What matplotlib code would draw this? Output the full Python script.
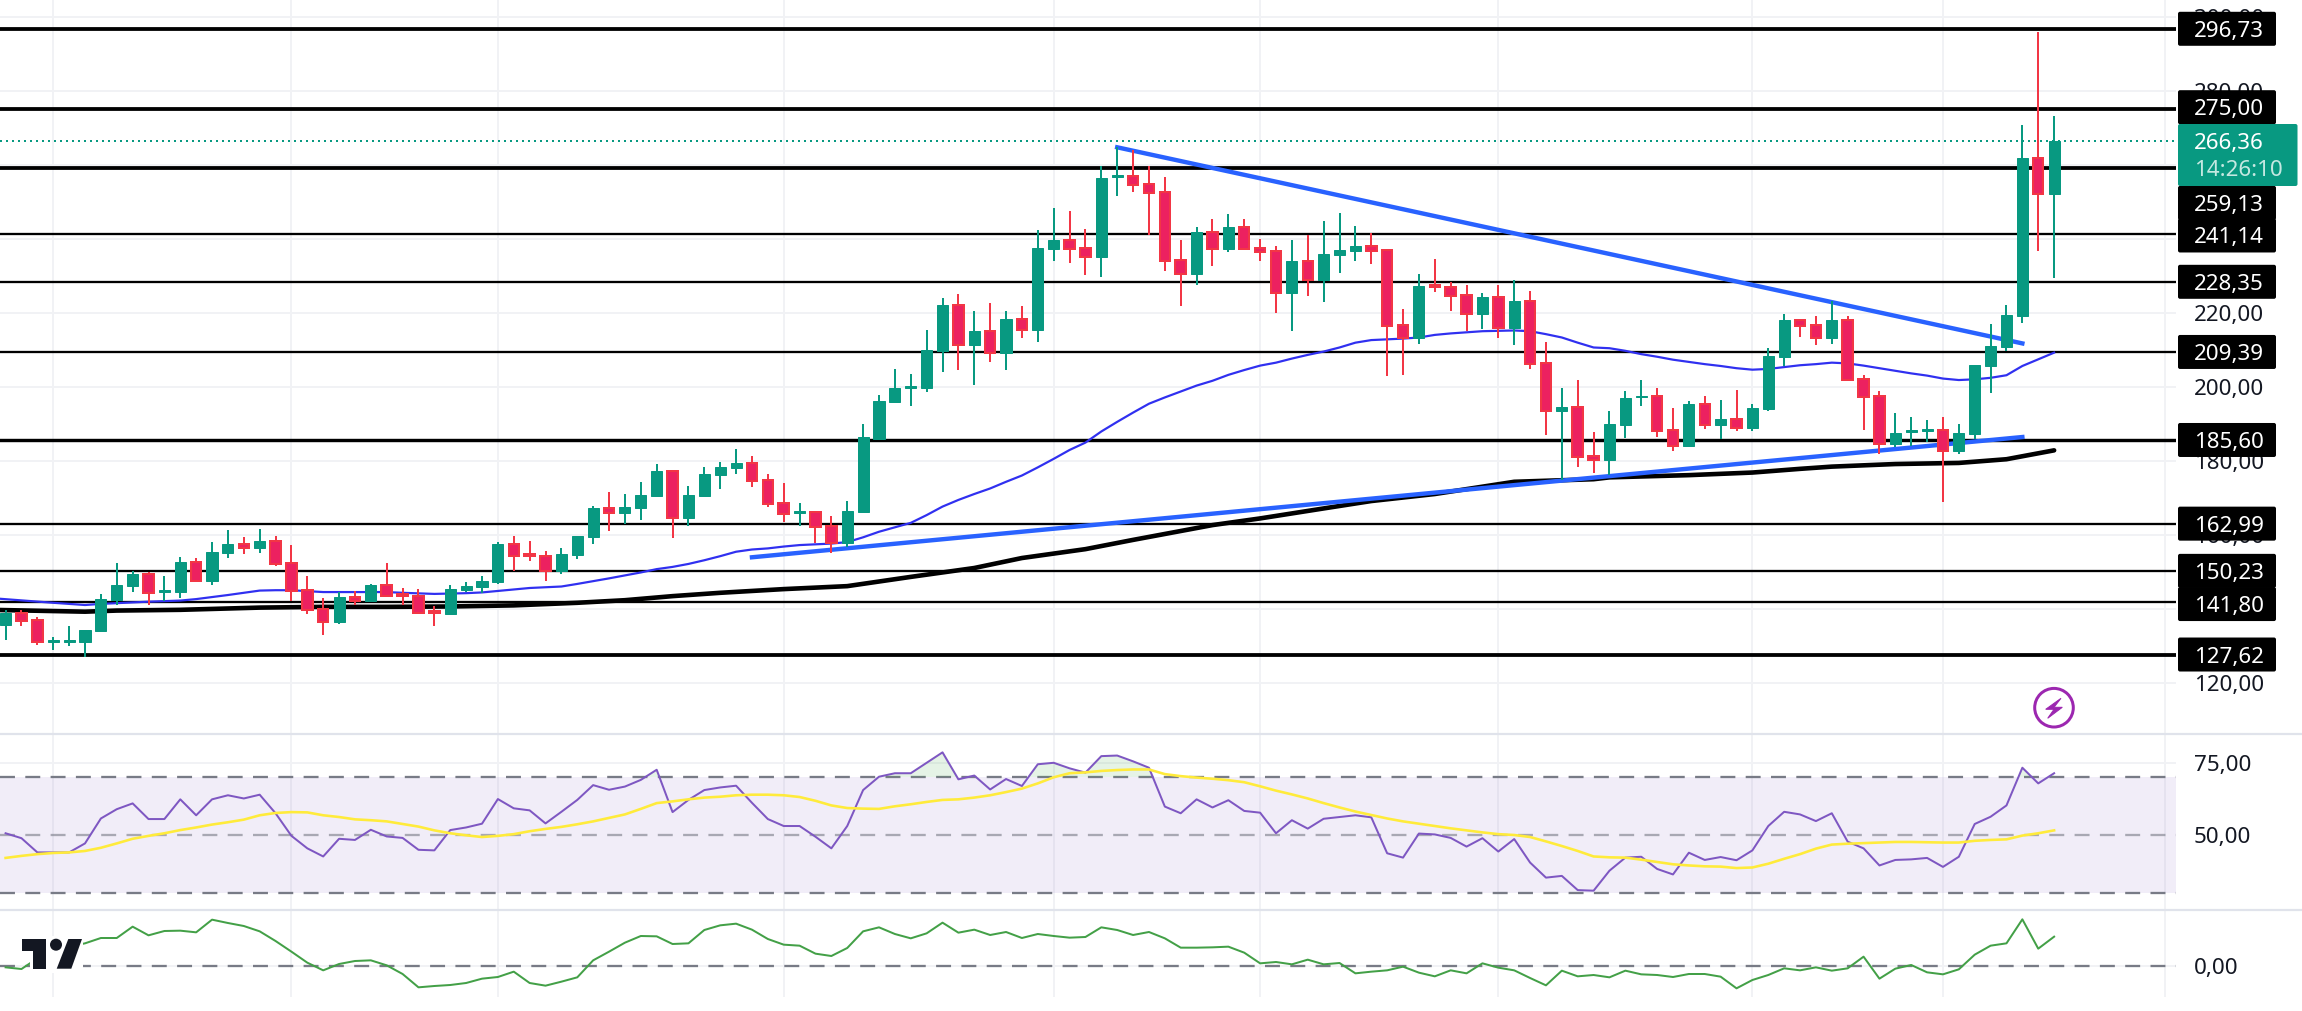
import matplotlib
matplotlib.use("Agg")
import matplotlib.pyplot as plt
from matplotlib.patches import FancyBboxPatch, Rectangle, Polygon, Circle
import numpy as np

W, H = 2302, 1011

opens = [135.6,138.9,137.0,131.1,131.1,131.0,134.1,142.3,146.1,149.4,144.6,144.5,152.6,147.5,155.1,157.5,156.4,158.3,152.3,145.0,
 139.9,136.4,143.2,142.1,146.4,144.0,143.4,139.4,138.6,145.0,145.9,147.2,157.5,154.8,154.2,150.2,154.5,159.4,167.2,165.9,
 167.2,170.5,177.2,164.5,170.5,176.1,178.0,179.4,174.8,168.6,165.9,166.1,162.3,157.7,166.1,185.9,195.9,199.7,199.7,209.7,
 222.1,211.3,215.1,209.1,218.3,215.3,237.2,239.6,237.5,235.1,256.8,257.0,254.8,252.6,234.2,230.5,241.8,237.2,243.2,237.5,
 236.7,225.3,234.0,228.8,235.6,236.7,238.0,237.0,216.7,213.2,227.5,227.0,224.8,219.6,224.2,215.9,223.2,206.4,193.4,194.5,
 181.3,180.2,189.6,197.1,197.5,188.3,184.0,195.3,189.6,191.3,188.8,194.0,208.0,218.0,216.7,213.2,218.0,202.1,197.5,184.5,
 187.8,188.1,188.3,182.6,187.2,205.6,210.7,219.1,261.8,252.1]
closes = [138.9,136.8,131.1,131.5,131.5,134.2,142.6,146.4,149.4,144.3,145.0,152.6,147.5,155.3,157.5,156.5,158.3,152.1,144.8,139.6,
 136.4,143.2,142.1,146.4,143.4,143.4,138.8,138.9,145.3,146.1,147.5,157.5,154.2,154.3,150.2,154.8,159.6,167.2,165.9,167.5,
 170.7,177.2,164.5,170.7,176.4,178.3,179.4,174.5,168.3,165.6,166.4,162.2,157.7,166.4,186.4,196.1,199.7,200.2,209.9,222.1,
 211.3,215.1,209.1,218.3,215.3,237.5,239.6,237.2,235.1,256.4,257.2,254.5,252.4,234.0,230.5,241.8,237.2,243.2,237.2,236.4,
 225.3,234.0,228.8,235.9,237.0,238.0,236.7,216.4,213.2,227.2,227.0,224.5,219.6,224.2,215.9,223.2,206.1,193.4,194.5,181.0,
 180.2,189.9,196.9,197.5,188.0,184.0,195.3,189.6,191.3,188.8,194.2,208.3,218.0,216.4,213.2,218.0,201.8,197.2,184.5,187.5,
 188.2,188.5,182.6,187.5,205.9,211.0,219.4,261.8,252.1,266.36]
highs = [139.6,139.6,137.7,132.4,135.3,134.2,144.0,152.3,150.2,149.9,148.8,154.0,153.7,158.0,161.3,159.4,161.5,159.6,157.2,148.8,
 142.9,144.5,144.8,146.7,152.3,145.6,145.3,140.7,146.4,147.2,148.8,158.0,159.6,158.3,155.6,156.4,159.6,167.7,171.5,171.0,
 174.2,179.1,177.5,173.2,178.3,179.7,183.2,181.3,176.4,174.0,168.6,166.3,165.1,169.1,189.9,197.8,204.8,203.4,215.3,224.0,
 225.1,220.5,222.6,220.5,221.8,242.4,248.3,247.5,242.6,259.6,264.9,264.0,259.6,256.7,239.6,243.2,245.3,246.7,245.3,239.9,
 238.0,239.6,241.0,244.8,246.9,243.4,241.5,237.2,221.0,230.5,234.5,228.3,227.5,225.3,227.5,228.8,225.9,212.1,199.7,201.8,
 187.8,193.4,198.8,201.8,199.6,194.2,196.1,197.5,196.4,199.1,195.3,210.4,219.6,218.0,219.1,223.2,219.1,203.2,198.8,192.9,
 191.8,191.0,191.8,189.9,205.9,216.9,222.1,270.7,295.9,273.2]
lows = [131.5,135.3,130.2,128.8,129.9,126.9,134.1,141.0,144.5,141.0,142.0,142.9,147.2,146.4,153.7,154.8,155.1,151.5,142.1,138.6,
 132.9,135.8,141.0,141.7,143.4,141.0,138.6,135.3,138.6,144.5,144.2,146.7,150.2,152.9,147.5,149.4,153.4,157.5,161.0,162.9,
 164.0,170.5,159.1,162.3,170.2,172.3,176.4,172.9,167.5,163.4,162.3,157.8,155.1,156.6,166.1,185.9,195.6,194.8,198.6,204.0,
 204.5,200.5,206.7,204.5,213.2,212.1,234.0,233.4,230.2,229.6,251.5,252.6,241.0,231.3,221.8,227.5,232.6,236.4,237.2,234.0,
 219.9,215.1,224.5,222.9,230.7,234.0,233.2,202.9,203.2,211.6,225.6,220.5,215.1,215.6,213.2,211.3,204.8,187.0,174.8,178.3,
 176.7,176.1,186.1,194.8,186.4,182.6,183.7,188.6,185.9,188.0,188.0,193.4,205.6,213.4,211.3,211.5,201.8,188.3,181.8,183.7,
 184.0,185.0,168.8,181.8,185.9,198.3,209.6,217.2,236.7,229.4]

ma50_idx = [-1,3,5,6,7,9,11,12,14,16,17,18,20,22,24,25,27,29,30,32,33,35,36,38,39,40,41,42,43,44,45,46,47,48,49,50,51,52,53,54,55,56,
 57,58,59,60,61,62,63,64,65,66,67,68,69,70,71,72,73,74,75,76,77,78,79,80,81,82,83,84,85,86,87,88,89,90,91,92,93,94,95,96,97,98,99,
 100,101,102,103,104,105,106,107,108,109,110,111,112,113,114,115,116,117,118,119,120,121,122,123,124,125,126,127,128,129]
ma50 = [142.9,141.6,141.0,141.3,141.5,141.9,142.2,142.6,143.7,144.9,145.0,145.0,144.5,144.5,144.5,144.3,144.0,144.2,144.4,145.2,145.6,146.0,146.7,148.2,149.0,149.8,150.7,151.3,152.1,153.1,154.2,155.4,156.0,156.3,156.8,157.2,157.4,157.6,158.0,159.3,160.8,162.0,
 163.2,165.3,167.6,169.4,171.0,172.5,174.3,176.0,178.2,180.5,182.9,184.9,187.9,190.5,193.0,195.4,197.1,198.7,200.3,201.6,203.2,204.5,205.7,206.5,207.6,208.6,209.5,210.6,211.9,212.6,212.8,213.0,213.3,214.0,214.4,214.7,215.0,215.1,215.2,215.0,214.2,213.3,211.9,
 210.6,210.4,209.7,208.8,208.1,207.3,206.7,206.1,205.6,205.0,204.6,204.8,205.3,205.8,206.1,206.5,206.3,205.7,205.0,204.3,203.6,203.0,202.2,201.8,202.0,202.4,203.1,205.6,207.4,209.2]

ma200_idx = [-1,5,7,11,16,20,24,28,32,36,39,42,45,49,53,57,61,64,68,71,76,79,83,86,90,95,100,101,106,110,113,115,119,123,126,129]
ma200 = [139.7,139.2,139.5,139.7,140.3,140.5,140.5,140.6,140.9,141.6,142.3,143.4,144.3,145.3,146.1,148.6,151.0,153.7,156.1,158.6,162.6,164.4,167.1,169.1,171.0,174.3,175.0,175.5,176.1,176.8,177.8,178.4,179.1,179.4,180.4,182.8]

rsi = [50.6,48.9,44.0,44.0,44.0,47.1,55.7,58.9,60.9,55.5,55.5,62.3,56.8,62.3,63.7,62.6,63.9,57.5,49.7,45.4,
 42.6,48.7,48.3,51.8,49.5,49.0,44.9,44.7,51.7,52.6,53.9,62.4,59.2,58.5,54.0,58.0,62.1,67.2,65.6,66.7,
 69.0,72.5,57.9,62.1,65.5,66.4,67.0,61.1,55.5,53.1,53.1,49.4,45.4,53.1,65.5,70.1,71.3,71.3,74.9,78.5,
 69.2,70.5,65.7,69.3,66.9,74.4,74.9,73.0,71.5,77.2,77.4,75.4,73.2,59.8,57.5,62.3,59.5,62.0,58.3,57.7,
 50.6,55.1,52.2,55.6,56.2,56.8,56.1,43.7,42.2,50.5,50.2,49.0,46.0,48.9,44.3,48.6,40.5,35.3,35.9,31.0,
 30.8,37.7,42.2,42.5,38.3,36.4,43.9,41.4,42.4,41.3,44.7,53.1,58.0,57.1,54.8,57.5,47.7,45.4,39.5,41.4,
 41.6,42.1,39.0,42.5,53.8,56.3,60.2,73.2,67.8,71.3]
rsi_ma = [42.1,42.8,43.4,43.8,44.0,44.5,45.6,47.1,48.7,49.7,50.6,51.7,52.6,53.6,54.4,55.3,56.8,57.6,57.9,57.8,
 56.8,56.2,55.4,55.1,54.7,53.8,52.9,51.6,50.6,49.9,49.3,49.7,50.3,51.3,52.1,52.8,53.7,54.7,55.9,57.1,
 59.0,61.0,61.6,62.3,62.9,63.2,63.7,63.9,63.9,63.7,63.1,61.8,60.2,59.3,59.1,59.0,59.9,60.6,61.4,62.1,
 62.3,62.9,63.7,64.8,66.0,67.8,69.9,71.3,71.6,72.1,72.4,72.6,72.6,71.0,70.3,69.8,69.4,68.9,68.2,66.8,
 65.3,64.0,62.6,61.0,59.5,58.1,56.9,55.7,54.7,53.9,53.1,52.3,51.6,50.9,50.3,50.0,49.3,47.8,46.2,44.5,
 42.6,42.3,42.2,41.5,40.7,39.9,39.5,39.2,39.1,38.6,38.8,40.1,41.8,43.4,45.3,46.7,47.0,47.2,47.4,47.6,
 47.6,47.5,47.4,47.4,48.0,48.3,48.5,49.8,50.6,51.6]
momentum = [-0.4,-0.9,2.3,4.3,5.8,6.8,8.4,8.4,11.8,9.2,10.5,10.6,10.1,13.9,12.9,12.0,10.4,7.5,4.3,1.0,
 -1.3,0.6,1.5,1.7,0.2,-2.4,-6.4,-6.0,-5.7,-5.1,-3.8,-3.3,-1.7,-5.1,-5.9,-4.7,-3.4,1.7,4.3,7.0,
 9.0,8.9,6.6,6.8,10.8,12.2,12.7,10.9,8.1,6.4,6.1,3.7,3.0,5.4,10.4,11.6,9.6,8.3,9.8,13.0,
 10.0,10.9,9.3,10.2,8.4,9.6,9.0,8.5,8.7,11.6,10.8,9.3,10.2,8.3,5.5,5.5,5.6,5.8,4.0,0.8,
 1.2,0.5,1.9,0.5,0.9,-2.2,-1.7,-1.3,-0.2,-2.0,-3.1,-1.3,-2.2,0.8,-0.5,-1.3,-3.6,-5.8,-1.4,-3.1,
 -2.7,-3.4,-1.4,-2.5,-2.7,-3.3,-2.4,-2.4,-3.2,-6.7,-4.2,-2.7,-0.7,-1.3,-0.4,-1.4,-0.7,2.8,-3.8,-0.8,
 0.3,-1.9,-2.5,-1.0,3.4,6.1,6.8,14.0,5.2,8.8]

levels = [296.73,275.00,259.13,241.14,228.35,209.39,185.60,162.99,150.23,141.80,127.62]
level_labels = ["296,73","275,00","259,13","241,14","228,35","209,39","185,60","162,99","150,23","141,80","127,62"]
level_widths = [3.8,3.8,3.8,2.3,2.3,2.3,3.4,2.3,2.3,2.3,3.8]
label_shift_px = [0,-2,35,1,0,0,0,0,0,2,0]
price_ticks = [300,280,260,240,220,200,180,160,140,120]
price_tick_labels = ["300,00","280,00","260,00","240,00","220,00","200,00","180,00","160,00","140,00","120,00"]
rsi_ticks = [75,50]
rsi_tick_labels = ["75,00","50,00"]
mom_ticks = [0]
mom_tick_labels = ["0,00"]
vgrid = [3,18,31,49,66,79,94,110,122,136]
last_price = 266.36
last_price_label = "266,36"
countdown = "14:26:10"
trend_up_x, trend_up_y = [47,127.0], [153.9,186.4]
trend_dn_x, trend_dn_y = [70,127.0], [264.7,211.7]

GREEN, RED_F, RED_E = "#089981", "#ec2160", "#f23645"
GRID = "#f1f2f5"
FONT = "Noto Sans"
plt.rcParams["font.family"] = [FONT, "DejaVu Sans"]
px = 0.72  # points per pixel at dpi 100

fig = plt.figure(figsize=(W/100, H/100), dpi=100, facecolor="white")

def pane(top, bottom, right=2176):
    return fig.add_axes([0, 1-bottom/H, right/W, (bottom-top)/H])

ax = pane(0, 734)
ar = pane(734, 910)
am = pane(910, 997)
XL = (-5.6/15.88, (2176-5.6)/15.88)
for a in (ax, ar, am):
    a.set_xlim(*XL)
    a.axis("off")
    for v in vgrid:
        a.axvline(v, color=GRID, lw=2*px, zorder=0)
ax.set_ylim(106.14, 304.51)
ar.set_ylim(24.14, 84.83)
am.set_ylim(-9.3, 16.8)

idx = np.arange(len(opens))
o, c, hi, lo = map(np.array, (opens, closes, highs, lows))

# main pane
for t in price_ticks:
    ax.axhline(t, color=GRID, lw=2*px, zorder=0)
for v, w in zip(levels, level_widths):
    ax.axhline(v, color="black", lw=w*px, zorder=1)
ax.plot(ma200_idx, ma200, color="black", lw=4.6*px, zorder=2, solid_capstyle="round")
ax.plot(ma50_idx, ma50, color="#3030f0", lw=2.2*px, zorder=2)
ax.plot(trend_up_x, trend_up_y, color="#2962ff", lw=4.4*px, zorder=2)
ax.plot(trend_dn_x, trend_dn_y, color="#2962ff", lw=4.4*px, zorder=2)
up = c >= o
ax.vlines(idx[up], lo[up], hi[up], color=GREEN, lw=2*px, zorder=3)
ax.vlines(idx[~up], lo[~up], hi[~up], color=RED_E, lw=2*px, zorder=3)
ax.bar(idx[up], (c-o)[up], bottom=o[up], width=0.70, color=GREEN, edgecolor=GREEN, lw=1*px, zorder=4)
ax.bar(idx[~up], (c-o)[~up], bottom=o[~up], width=0.66, color=RED_F, edgecolor=RED_E, lw=2*px, zorder=4)
ax.axhline(last_price, color=GREEN, lw=2*px, ls=(0, (1, 2)), zorder=2)

# RSI pane
r = np.array(rsi)
ar.axhspan(30, 70, color="#7e57c2", alpha=0.1, lw=0, zorder=0)
ar.axhline(75, color=GRID, lw=2*px, zorder=0)
dash = (0, (6.5, 4.5))
ar.axhline(70, color="#787b86", lw=2.3*px, ls=dash, zorder=1)
ar.axhline(50, color="#787b86", alpha=0.6, lw=2.3*px, ls=dash, zorder=1)
ar.axhline(30, color="#787b86", lw=2.3*px, ls=dash, zorder=1)
ar.fill_between(idx, r, 70, where=r > 70, interpolate=True, color="#4caf50", alpha=0.14, lw=0, zorder=1)
ar.plot(idx, rsi, color="#7e57c2", lw=2*px, zorder=2)
ar.plot(idx, rsi_ma, color="#ffeb3b", lw=2.6*px, zorder=3)

# momentum pane
am.axhline(0, color=GRID, lw=2*px, zorder=0)
am.axhline(0, color="#787b86", lw=2.3*px, ls=dash, zorder=1)
am.plot(idx, momentum, color="#43a047", lw=2*px, zorder=2)

# overlay in pixel space for decoration and price labels
ov = fig.add_axes([0, 0, 1, 1], zorder=10)
ov.set_xlim(0, W)
ov.set_ylim(H, 0)
ov.axis("off")
ov.patch.set_alpha(0)

def ypx(axis, v):
    return H - axis.transData.transform((0, v))[1]

for y in (734, 910):
    ov.plot([0, W], [y, y], color="#e0e3eb", lw=2.2*px, zorder=1)

fs = 16.1
TX = 2194
def tick(axis, v, s):
    ov.text(TX, ypx(axis, v), s, color="#131722", fontsize=fs, va="center_baseline", ha="left", zorder=2)
for v, s in zip(price_ticks, price_tick_labels):
    tick(ax, v, s)
for v, s in zip(rsi_ticks, rsi_tick_labels):
    tick(ar, v, s)
for v, s in zip(mom_ticks, mom_tick_labels):
    tick(am, v, s)

def box(y0, y1, x1, col, z):
    ov.add_patch(FancyBboxPatch((2178+2, y0+2), x1-2178-4, y1-y0-4, boxstyle="round,pad=2", fc=col, ec="none", zorder=z))

for v, s, sh in zip(levels, level_labels, label_shift_px):
    yc = ypx(ax, v) + sh
    box(yc-17, yc+17, 2276, "black", 3)
    ov.text(TX, yc, s, color="white", fontsize=fs, va="center_baseline", ha="left", zorder=4)

yc = ypx(ax, last_price)
box(124, 186, 2297.5, GREEN, 5)
ov.text(TX, yc, last_price_label, color="white", fontsize=fs, va="center_baseline", ha="left", zorder=6)
ov.text(TX, yc+27, countdown, color="#c4e8e1", fontsize=fs, va="center_baseline", ha="left", zorder=6)

# purple flash icon
ov.add_patch(Circle((2054, 707.7), 19.3, fc="white", ec="#9c27b0", lw=3*px, zorder=3))
ov.add_patch(Polygon([(2061,698.3),(2045.7,709.3),(2054,709.3),(2047.7,718.3),(2062.3,707.3),(2054,707.3)], fc="#9c27b0", ec="#9c27b0", lw=1*px, zorder=4))

# TradingView logo
ov.add_patch(Rectangle((30, 936), 53, 37, fc="white", ec="none", zorder=2))
LC = "#131722"
ov.add_patch(Polygon([(21.7,939),(45.7,939),(45.7,968.7),(33.3,968.7),(33.3,951),(21.7,951)], fc=LC, ec="none", zorder=3))
ov.add_patch(Circle((56, 944.7), 6, fc=LC, ec="none", zorder=3))
ov.add_patch(Polygon([(68.3,939),(82,939),(71.3,968.7),(56.7,968.7)], fc=LC, ec="none", zorder=3))

fig.savefig("out.png", dpi=100, facecolor="white")
